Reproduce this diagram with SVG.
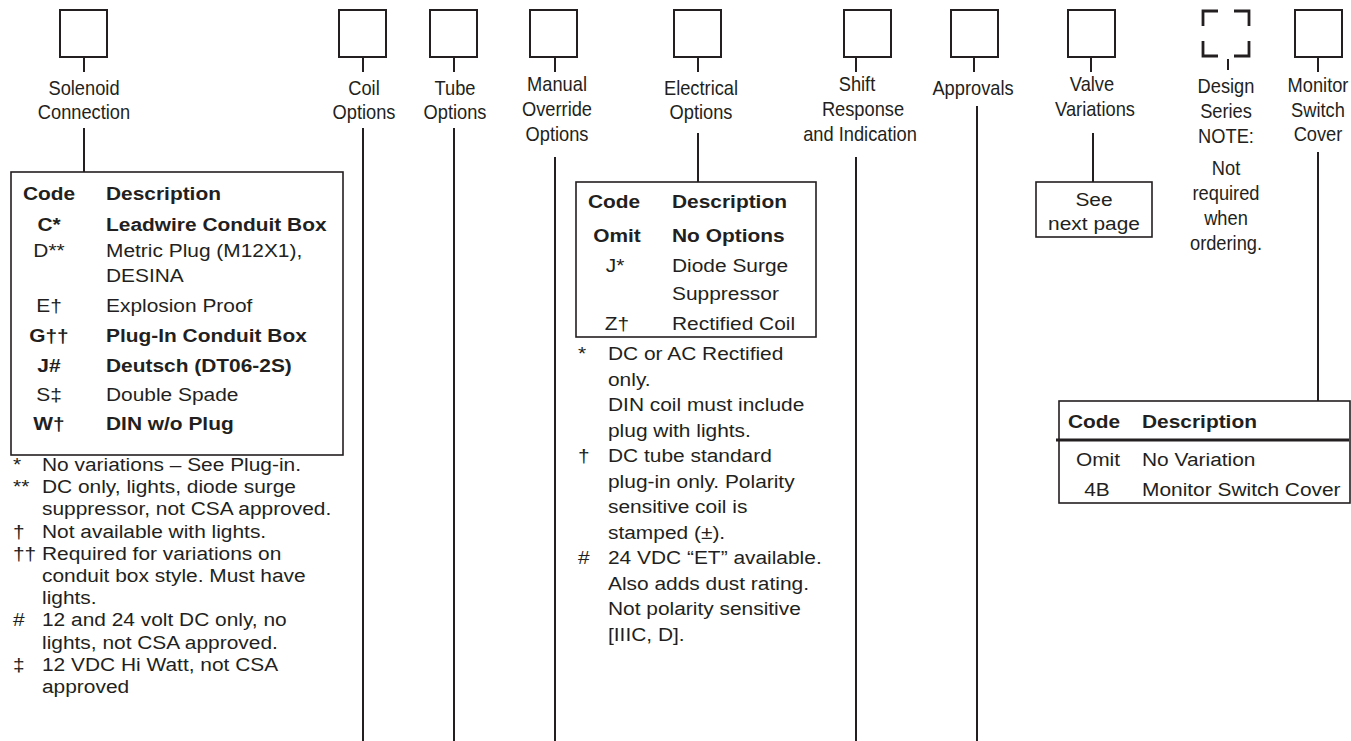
<svg xmlns="http://www.w3.org/2000/svg" width="1351" height="741" viewBox="0 0 1351 741">
<style>
.bg{fill:#ffffff}
.box{fill:none;stroke:#231f20;stroke-width:2}
.dash{fill:none;stroke:#231f20;stroke-width:2.8}
.tbl{fill:none;stroke:#231f20;stroke-width:1.6}
.ln{stroke:#231f20;stroke-width:2;fill:none}
.lbl{font-family:"Liberation Sans",Arial,sans-serif;font-size:21px;fill:#231f20;text-anchor:middle}
.t{font-family:"Liberation Sans",Arial,sans-serif;font-size:19px;fill:#231f20}
.b{font-weight:bold}
.m{text-anchor:middle}
</style>
<rect class="bg" x="0" y="0" width="1351" height="741"/>

<g id="connectors">
  <line class="ln" x1="84" y1="57" x2="84" y2="72"/>
  <line class="ln" x1="84" y1="128" x2="84" y2="172"/>
  <line class="ln" x1="363" y1="57" x2="363" y2="72"/>
  <line class="ln" x1="363" y1="128" x2="363" y2="741"/>
  <line class="ln" x1="454" y1="57" x2="454" y2="72"/>
  <line class="ln" x1="454" y1="128" x2="454" y2="741"/>
  <line class="ln" x1="555" y1="57" x2="555" y2="72"/>
  <line class="ln" x1="555" y1="157" x2="555" y2="741"/>
  <line class="ln" x1="698" y1="57" x2="698" y2="72"/>
  <line class="ln" x1="698" y1="133" x2="698" y2="182"/>
  <line class="ln" x1="856" y1="57" x2="856" y2="72"/>
  <line class="ln" x1="856" y1="157" x2="856" y2="741"/>
  <line class="ln" x1="974" y1="57" x2="974" y2="72"/>
  <line class="ln" x1="977" y1="106" x2="977" y2="741"/>
  <line class="ln" x1="1091" y1="57" x2="1091" y2="72"/>
  <line class="ln" x1="1093" y1="133" x2="1093" y2="182"/>
  <line class="ln" x1="1228" y1="59" x2="1228" y2="70"/>
  <line class="ln" x1="1318" y1="57" x2="1318" y2="72"/>
  <line class="ln" x1="1318" y1="152" x2="1318" y2="401"/>
</g>

<g id="solenoid">
  <rect class="box" x="60" y="10" width="47" height="47"/>
  <text class="lbl" transform="matrix(0.87 0 0 1 84 95)">Solenoid</text>
  <text class="lbl" transform="matrix(0.87 0 0 1 84 119)">Connection</text>
</g>
<g id="coil">
  <rect class="box" x="339" y="10" width="47" height="47"/>
  <text class="lbl" transform="matrix(0.87 0 0 1 364 95)">Coil</text>
  <text class="lbl" transform="matrix(0.87 0 0 1 364 119)">Options</text>
</g>
<g id="tube">
  <rect class="box" x="430" y="10" width="47" height="47"/>
  <text class="lbl" transform="matrix(0.87 0 0 1 455 95)">Tube</text>
  <text class="lbl" transform="matrix(0.87 0 0 1 455 119)">Options</text>
</g>
<g id="manual">
  <rect class="box" x="530" y="10" width="47" height="47"/>
  <text class="lbl" transform="matrix(0.87 0 0 1 557 91)">Manual</text>
  <text class="lbl" transform="matrix(0.87 0 0 1 557 116)">Override</text>
  <text class="lbl" transform="matrix(0.87 0 0 1 557 141)">Options</text>
</g>
<g id="electrical">
  <rect class="box" x="674" y="10" width="47" height="47"/>
  <text class="lbl" transform="matrix(0.87 0 0 1 701 95)">Electrical</text>
  <text class="lbl" transform="matrix(0.87 0 0 1 701 119)">Options</text>
</g>
<g id="shift">
  <rect class="box" x="844" y="10" width="47" height="47"/>
  <text class="lbl" transform="matrix(0.87 0 0 1 857 91)">Shift</text>
  <text class="lbl" transform="matrix(0.87 0 0 1 863 116)">Response</text>
  <text class="lbl" transform="matrix(0.87 0 0 1 860 141)">and Indication</text>
</g>
<g id="approvals">
  <rect class="box" x="951" y="10" width="47" height="47"/>
  <text class="lbl" transform="matrix(0.87 0 0 1 973 95)">Approvals</text>
</g>
<g id="valve">
  <rect class="box" x="1068" y="10" width="47" height="47"/>
  <text class="lbl" transform="matrix(0.87 0 0 1 1092 91)">Valve</text>
  <text class="lbl" transform="matrix(0.87 0 0 1 1095 116)">Variations</text>
  <rect class="tbl" x="1036" y="182" width="116" height="55"/>
  <text class="t m" transform="matrix(1.1 0 0 1 1094 206)">See</text>
  <text class="t m" transform="matrix(1.1 0 0 1 1094 230)">next page</text>
</g>
<g id="design">
  <path class="dash" d="M1203,26 V11 H1218 M1234,11 H1249 V26 M1249,41 V56 H1234 M1218,56 H1203 V41"/>
  <text class="lbl" transform="matrix(0.87 0 0 1 1226 93)">Design</text>
  <text class="lbl" transform="matrix(0.87 0 0 1 1226 118)">Series</text>
  <text class="lbl" transform="matrix(0.87 0 0 1 1226 143)">NOTE:</text>
  <text class="lbl" transform="matrix(0.87 0 0 1 1226 175)">Not</text>
  <text class="lbl" transform="matrix(0.87 0 0 1 1226 200)">required</text>
  <text class="lbl" transform="matrix(0.87 0 0 1 1226 225)">when</text>
  <text class="lbl" transform="matrix(0.87 0 0 1 1226 250)">ordering.</text>
</g>
<g id="monitor">
  <rect class="box" x="1295" y="10" width="47" height="47"/>
  <text class="lbl" transform="matrix(0.87 0 0 1 1318 92)">Monitor</text>
  <text class="lbl" transform="matrix(0.87 0 0 1 1318 117)">Switch</text>
  <text class="lbl" transform="matrix(0.87 0 0 1 1318 141)">Cover</text>
</g>

<g id="solenoid-table">
  <rect class="tbl" x="11" y="172" width="332" height="283"/>
  <text class="t b m" transform="matrix(1.1 0 0 1 49 200)">Code</text>
  <text class="t b" transform="matrix(1.1 0 0 1 106 200)">Description</text>
  <text class="t b m" transform="matrix(1.1 0 0 1 49 231)">C*</text>
  <text class="t b" transform="matrix(1.1 0 0 1 106 231)">Leadwire Conduit Box</text>
  <text class="t m" transform="matrix(1.1 0 0 1 49 257)">D**</text>
  <text class="t" transform="matrix(1.1 0 0 1 106 257)">Metric Plug (M12X1),</text>
  <text class="t" transform="matrix(1.1 0 0 1 106 282)">DESINA</text>
  <text class="t m" transform="matrix(1.1 0 0 1 49 312)">E†</text>
  <text class="t" transform="matrix(1.1 0 0 1 106 312)">Explosion Proof</text>
  <text class="t b m" transform="matrix(1.1 0 0 1 49 342)">G††</text>
  <text class="t b" transform="matrix(1.1 0 0 1 106 342)">Plug-In Conduit Box</text>
  <text class="t b m" transform="matrix(1.1 0 0 1 49 372)">J#</text>
  <text class="t b" transform="matrix(1.1 0 0 1 106 372)">Deutsch (DT06-2S)</text>
  <text class="t m" transform="matrix(1.1 0 0 1 49 401)">S‡</text>
  <text class="t" transform="matrix(1.1 0 0 1 106 401)">Double Spade</text>
  <text class="t b m" transform="matrix(1.1 0 0 1 49 430)">W†</text>
  <text class="t b" transform="matrix(1.1 0 0 1 106 430)">DIN w/o Plug</text>
</g>
<g id="solenoid-notes">
  <text class="t" transform="matrix(1.1 0 0 1 13 471)">*</text>
  <text class="t" transform="matrix(1.1 0 0 1 42 471)">No variations – See Plug-in.</text>
  <text class="t" transform="matrix(1.1 0 0 1 13 493)">**</text>
  <text class="t" transform="matrix(1.1 0 0 1 42 493)">DC only, lights, diode surge</text>
  <text class="t" transform="matrix(1.1 0 0 1 42 515)">suppressor, not CSA approved.</text>
  <text class="t" transform="matrix(1.1 0 0 1 13 538)">†</text>
  <text class="t" transform="matrix(1.1 0 0 1 42 538)">Not available with lights.</text>
  <text class="t" transform="matrix(1.1 0 0 1 13 560)">††</text>
  <text class="t" transform="matrix(1.1 0 0 1 42 560)">Required for variations on</text>
  <text class="t" transform="matrix(1.1 0 0 1 42 582)">conduit box style. Must have</text>
  <text class="t" transform="matrix(1.1 0 0 1 42 604)">lights.</text>
  <text class="t" transform="matrix(1.1 0 0 1 13 626)">#</text>
  <text class="t" transform="matrix(1.1 0 0 1 42 626)">12 and 24 volt DC only, no</text>
  <text class="t" transform="matrix(1.1 0 0 1 42 649)">lights, not CSA approved.</text>
  <text class="t" transform="matrix(1.1 0 0 1 13 671)">‡</text>
  <text class="t" transform="matrix(1.1 0 0 1 42 671)">12 VDC Hi Watt, not CSA</text>
  <text class="t" transform="matrix(1.1 0 0 1 42 693)">approved</text>
</g>

<g id="electrical-table">
  <rect class="tbl" x="576" y="182" width="240" height="155"/>
  <text class="t b" transform="matrix(1.1 0 0 1 588 208)">Code</text>
  <text class="t b" transform="matrix(1.1 0 0 1 672 208)">Description</text>
  <text class="t b m" transform="matrix(1.1 0 0 1 617 242)">Omit</text>
  <text class="t b" transform="matrix(1.1 0 0 1 672 242)">No Options</text>
  <text class="t m" transform="matrix(1.1 0 0 1 615 272)">J*</text>
  <text class="t" transform="matrix(1.1 0 0 1 672 272)">Diode Surge</text>
  <text class="t" transform="matrix(1.1 0 0 1 672 300)">Suppressor</text>
  <text class="t m" transform="matrix(1.1 0 0 1 617 330)">Z†</text>
  <text class="t" transform="matrix(1.1 0 0 1 672 330)">Rectified Coil</text>
</g>
<g id="electrical-notes">
  <text class="t" transform="matrix(1.1 0 0 1 578 360)">*</text>
  <text class="t" transform="matrix(1.1 0 0 1 608 360)">DC or AC Rectified</text>
  <text class="t" transform="matrix(1.1 0 0 1 608 386)">only.</text>
  <text class="t" transform="matrix(1.1 0 0 1 608 411)">DIN coil must include</text>
  <text class="t" transform="matrix(1.1 0 0 1 608 437)">plug with lights.</text>
  <text class="t" transform="matrix(1.1 0 0 1 578 462)">†</text>
  <text class="t" transform="matrix(1.1 0 0 1 608 462)">DC tube standard</text>
  <text class="t" transform="matrix(1.1 0 0 1 608 488)">plug-in only. Polarity</text>
  <text class="t" transform="matrix(1.1 0 0 1 608 513)">sensitive coil is</text>
  <text class="t" transform="matrix(1.1 0 0 1 608 539)">stamped (±).</text>
  <text class="t" transform="matrix(1.1 0 0 1 578 564)">#</text>
  <text class="t" transform="matrix(1.1 0 0 1 608 564)">24 VDC “ET” available.</text>
  <text class="t" transform="matrix(1.1 0 0 1 608 590)">Also adds dust  rating.</text>
  <text class="t" transform="matrix(1.1 0 0 1 608 615)">Not polarity sensitive</text>
  <text class="t" transform="matrix(1.1 0 0 1 608 641)">[IIIC, D].</text>
</g>

<g id="monitor-table">
  <rect class="tbl" x="1059" y="401" width="291" height="102"/>
  <line x1="1056" y1="440" x2="1349" y2="440" stroke="#231f20" stroke-width="3"/>
  <text class="t b" transform="matrix(1.1 0 0 1 1068 428)">Code</text>
  <text class="t b" transform="matrix(1.1 0 0 1 1142 428)">Description</text>
  <text class="t m" transform="matrix(1.1 0 0 1 1098 466)">Omit</text>
  <text class="t" transform="matrix(1.1 0 0 1 1142 466)">No Variation</text>
  <text class="t m" transform="matrix(1.1 0 0 1 1097 496)">4B</text>
  <text class="t" transform="matrix(1.1 0 0 1 1142 496)">Monitor Switch Cover</text>
</g>
</svg>
